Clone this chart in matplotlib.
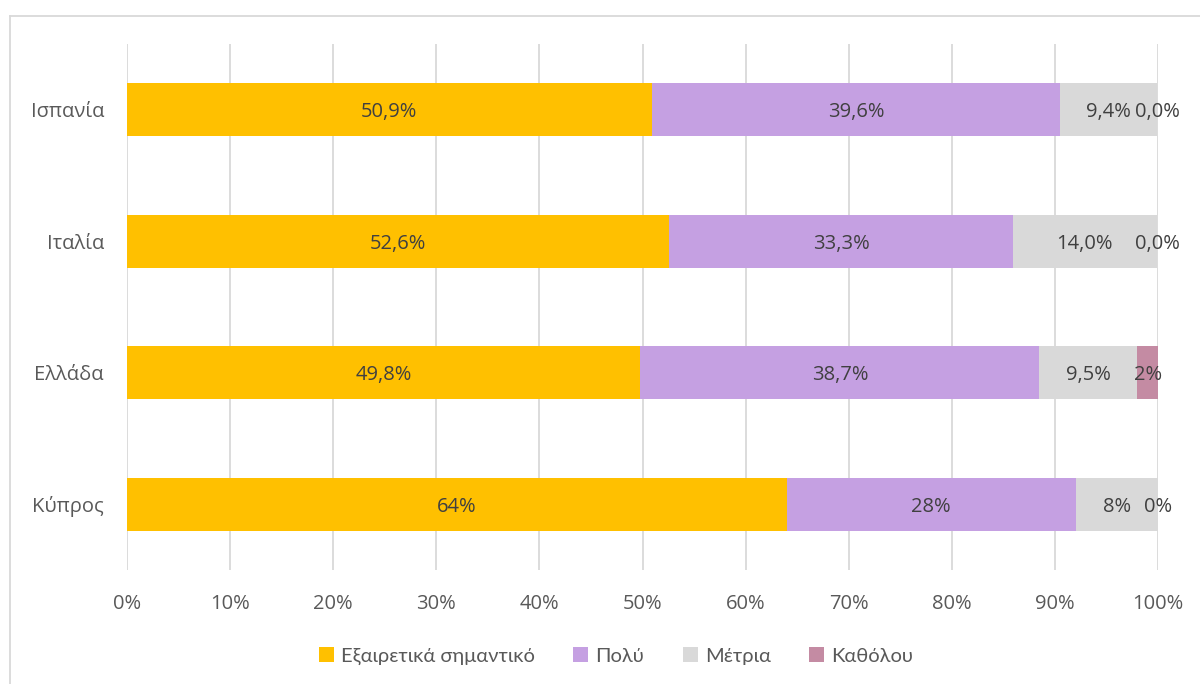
import matplotlib
matplotlib.use("Agg")
import matplotlib.pyplot as plt
from matplotlib.lines import Line2D
from matplotlib.patches import Patch
import numpy as np

plt.rcParams['font.family'] = ['Open Sans', 'DejaVu Sans']

categories = ["Ισπανία", "Ιταλία", "Ελλάδα", "Κύπρος"]
series_names = ["Εξαιρετικά σημαντικό", "Πολύ", "Μέτρια", "Καθόλου"]
v_exc = [50.9, 52.6, 49.8, 64.0]
v_poly = [39.6, 33.3, 38.7, 28.0]
v_metr = [9.4, 14.0, 9.5, 8.0]
v_kath = [0.0, 0.0, 2.0, 0.0]
lbl_exc = ["50,9%", "52,6%", "49,8%", "64%"]
lbl_poly = ["39,6%", "33,3%", "38,7%", "28%"]
lbl_metr = ["9,4%", "14,0%", "9,5%", "8%"]
lbl_kath = ["0,0%", "0,0%", "2%", "0%"]
tick_vals = [0, 10, 20, 30, 40, 50, 60, 70, 80, 90, 100]
tick_labels = [f"{t}%" for t in tick_vals]

colors = ["#FFC000", "#C5A0E2", "#D9D9D9", "#C48BA3"]
text_color = "#595959"
label_color = "#404040"
fs = 14.5

fig = plt.figure(figsize=(12, 6.84), dpi=100)
ax = fig.add_axes([127/1200, 1 - 570/684, (1158-127)/1200, (570-44)/684])

y = np.arange(len(categories))
series = [v_exc, v_poly, v_metr, v_kath]
labels = [lbl_exc, lbl_poly, lbl_metr, lbl_kath]
left = np.zeros(len(categories))
for vals, lbls, col in zip(series, labels, colors):
    vals = np.array(vals)
    ax.barh(y, vals, left=left, height=0.4, color=col, zorder=3)
    for i, (v, l) in enumerate(zip(vals, lbls)):
        cx = left[i] + v / 2
        ax.text(cx, y[i], l, ha='center', va='center_baseline', fontsize=fs,
                color=label_color, zorder=4)
    left = left + vals

ax.set_xlim(0, 100)
ax.set_ylim(len(categories) - 0.5, -0.5)
ax.set_yticks(y)
ax.set_yticklabels(categories, fontsize=fs, color=text_color)
ax.set_xticks(tick_vals)
ax.set_xticklabels(tick_labels, fontsize=fs, color=text_color)
ax.tick_params(axis='both', length=0)
ax.tick_params(axis='x', pad=17)
ax.tick_params(axis='y', pad=16.5)
ax.grid(axis='x', color='#D9D9D9', linewidth=1.3, zorder=0)
for s in ax.spines.values():
    s.set_visible(False)

handles = [Patch(facecolor=c, edgecolor='none') for c in colors]
leg = fig.legend(handles, series_names, loc='center', bbox_to_anchor=(616/1200, 1 - 656/684),
                 ncol=4, frameon=False, prop={'family': ['Lato', 'DejaVu Sans'], 'size': 14.5},
                 handlelength=0.75, handleheight=0.75,
                 handletextpad=0.35, columnspacing=1.9)
for t in leg.get_texts():
    t.set_color(text_color)

# chart border (top and left visible in the reference)
fig.add_artist(Line2D([9.5/1200, 1], [1 - 15.5/684, 1 - 15.5/684], color='#D9D9D9', linewidth=1.3))
fig.add_artist(Line2D([9.5/1200, 9.5/1200], [0, 1 - 15.5/684], color='#D9D9D9', linewidth=1.3))

fig.savefig("out.png", dpi=100)
